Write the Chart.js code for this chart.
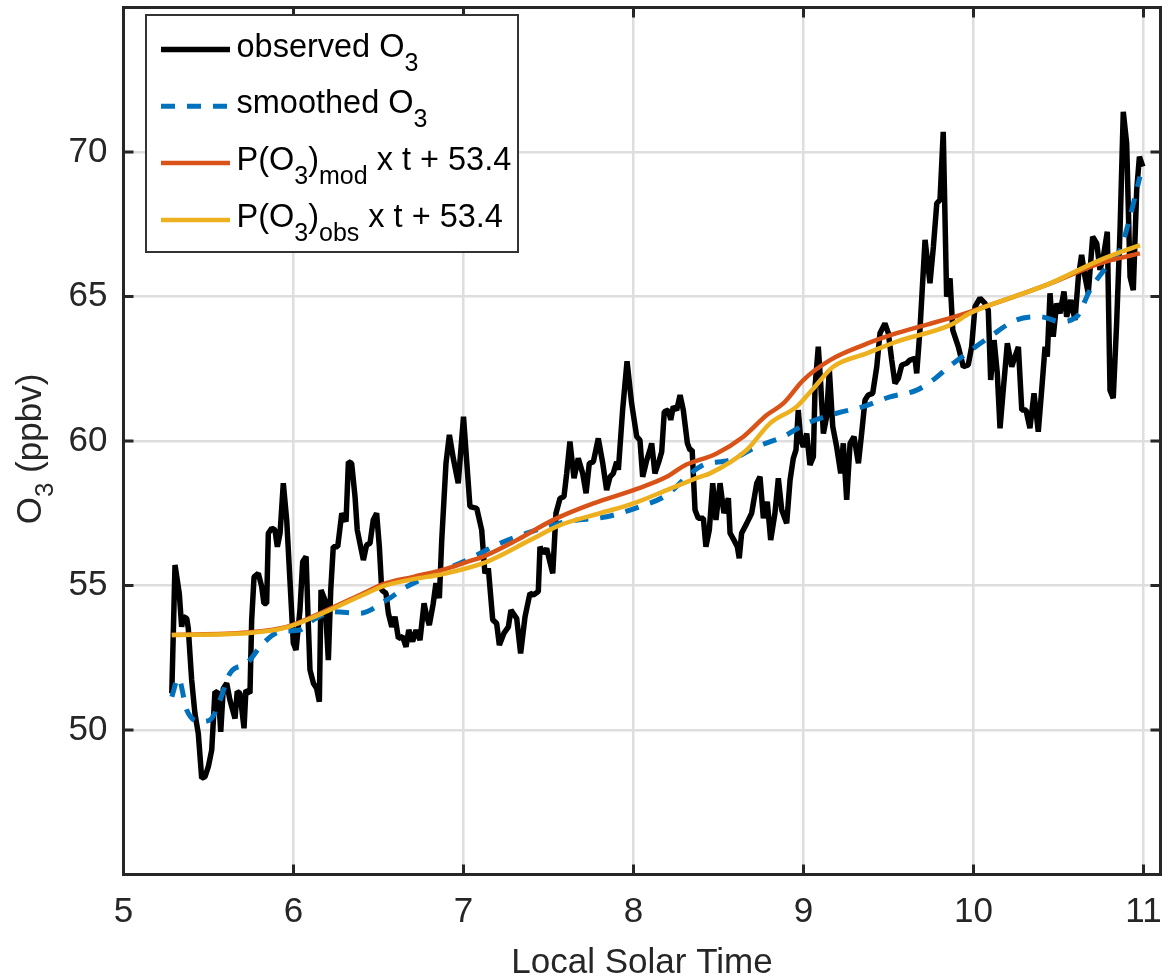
<!DOCTYPE html>
<html>
<head>
<meta charset="utf-8">
<script src="https://cdn.jsdelivr.net/npm/chart.js@4.4.1/dist/chart.umd.min.js"></script>
<style>
  html, body { margin: 0; padding: 0; background: #fff; }
  #wrap { width: 1170px; height: 979px; }
</style>
</head>
<body>
<div id="wrap"><canvas id="chart" width="1170" height="979"></canvas></div>
<script>
// observed O3 (ppbv) vs local solar time
const obsTime = [
  5.284, 5.303, 5.328, 5.342, 5.352, 5.372, 5.381, 5.401, 5.420, 5.440, 5.460, 5.479, 5.499, 5.519, 5.538, 5.558,
  5.572, 5.587, 5.607, 5.626, 5.656, 5.669, 5.685, 5.709, 5.720, 5.744, 5.754, 5.768, 5.793, 5.813, 5.826, 5.842,
  5.852, 5.872, 5.891, 5.905, 5.921, 5.940, 5.960, 5.979, 5.999, 6.015, 6.038, 6.054, 6.074, 6.087, 6.097, 6.117,
  6.136, 6.152, 6.162, 6.185, 6.205, 6.219, 6.234, 6.260, 6.284, 6.309, 6.323, 6.342, 6.362, 6.375, 6.395, 6.411,
  6.430, 6.450, 6.469, 6.489, 6.505, 6.519, 6.544, 6.558, 6.578, 6.597, 6.617, 6.642, 6.662, 6.678, 6.701, 6.721,
  6.744, 6.768, 6.784, 6.799, 6.822, 6.838, 6.858, 6.872, 6.897, 6.917, 6.940, 6.969, 7.000, 7.038, 7.078, 7.107,
  7.126, 7.146, 7.172, 7.195, 7.211, 7.238, 7.264, 7.279, 7.313, 7.336, 7.362, 7.391, 7.411, 7.440, 7.450, 7.469,
  7.489, 7.525, 7.544, 7.568, 7.591, 7.607, 7.626, 7.650, 7.675, 7.701, 7.721, 7.740, 7.764, 7.793, 7.819, 7.842,
  7.862, 7.881, 7.901, 7.911, 7.936, 7.962, 7.989, 8.019, 8.038, 8.054, 8.078, 8.097, 8.107, 8.126, 8.152, 8.166,
  8.181, 8.205, 8.219, 8.234, 8.254, 8.274, 8.293, 8.317, 8.332, 8.345, 8.362, 8.381, 8.411, 8.426, 8.446, 8.466,
  8.485, 8.509, 8.532, 8.558, 8.568, 8.591, 8.611, 8.622, 8.636, 8.666, 8.695, 8.725, 8.744, 8.764, 8.787, 8.807,
  8.832, 8.852, 8.872, 8.901, 8.921, 8.940, 8.956, 8.969, 8.984, 8.999, 9.019, 9.038, 9.058, 9.068, 9.087, 9.101,
  9.117, 9.136, 9.152, 9.172, 9.195, 9.219, 9.234, 9.254, 9.274, 9.297, 9.323, 9.342, 9.362, 9.381, 9.407, 9.431,
  9.450, 9.479, 9.499, 9.519, 9.538, 9.558, 9.578, 9.607, 9.626, 9.656, 9.666, 9.685, 9.715, 9.744, 9.764, 9.784,
  9.803, 9.822, 9.842, 9.862, 9.878, 9.911, 9.940, 9.969, 9.989, 10.009, 10.038, 10.068, 10.087, 10.101, 10.121, 10.140,
  10.156, 10.175, 10.199, 10.225, 10.244, 10.264, 10.284, 10.309, 10.332, 10.356, 10.381, 10.401, 10.421, 10.434, 10.450, 10.469,
  10.489, 10.509, 10.532, 10.548, 10.572, 10.597, 10.617, 10.636, 10.656, 10.675, 10.701, 10.725, 10.744, 10.764, 10.787, 10.803,
  10.822, 10.842, 10.862, 10.881, 10.901, 10.921, 10.940, 10.960, 10.976, 10.996
];
const obsO3 = [
  51.27, 55.71, 54.73, 53.57, 53.92, 53.86, 53.52, 51.73, 50.58, 49.88, 48.33, 48.38, 48.73, 49.31, 51.33, 51.27,
  49.94, 51.44, 51.62, 51.04, 50.40, 51.33, 51.27, 50.06, 51.38, 51.27, 53.81, 55.30, 55.42, 54.96, 54.38, 54.38,
  56.81, 56.98, 56.92, 56.34, 56.81, 58.54, 57.27, 55.19, 53.00, 52.77, 54.15, 55.82, 56.00, 53.69, 52.08, 51.62,
  51.44, 50.98, 54.84, 54.50, 52.42, 54.84, 56.34, 56.34, 57.50, 57.21, 59.28, 59.23, 58.07, 56.92, 56.34, 55.88,
  56.40, 56.46, 57.27, 57.50, 56.34, 54.84, 54.73, 54.04, 53.57, 53.92, 53.17, 53.23, 52.88, 53.46, 53.06, 53.46,
  53.11, 54.38, 53.92, 53.63, 54.38, 55.08, 54.56, 56.57, 59.23, 60.21, 59.40, 58.54, 60.84, 57.73, 57.67, 56.92,
  55.42, 55.60, 53.81, 53.69, 52.94, 53.35, 53.57, 54.15, 53.86, 52.65, 53.92, 54.73, 54.67, 54.79, 56.34, 56.11,
  56.28, 55.42, 57.50, 58.02, 58.07, 58.88, 59.98, 58.71, 59.40, 58.88, 58.19, 59.23, 59.28, 60.09, 59.23, 58.30,
  58.76, 58.88, 59.28, 59.00, 61.07, 62.76, 61.30, 60.15, 60.03, 58.76, 59.34, 59.69, 59.92, 58.88, 59.34, 59.63,
  61.01, 61.07, 60.73, 61.19, 61.07, 61.59, 61.07, 59.92, 59.69, 59.69, 57.61, 57.33, 57.33, 56.34, 56.92, 58.54,
  57.27, 58.54, 57.50, 58.02, 56.81, 56.57, 56.34, 55.94, 56.81, 57.15, 57.50, 58.54, 58.76, 57.33, 57.90, 56.57,
  57.50, 58.71, 57.61, 57.15, 58.65, 59.40, 59.69, 61.07, 60.03, 59.80, 60.26, 59.17, 59.46, 61.88, 63.26, 61.99,
  60.26, 60.84, 62.46, 60.50, 59.80, 58.88, 59.92, 57.96, 59.92, 60.15, 59.23, 60.26, 61.42, 61.59, 61.65, 62.57,
  63.73, 64.07, 63.73, 62.80, 61.99, 62.17, 62.63, 62.69, 62.80, 62.86, 62.34, 63.84, 66.96, 65.46, 66.72, 68.22,
  68.34, 70.70, 64.99, 65.63, 63.84, 63.26, 62.57, 62.63, 63.26, 64.65, 64.94, 64.76, 64.53, 62.11, 63.49, 62.34,
  60.44, 61.76, 63.38, 62.57, 62.92, 63.26, 61.07, 61.07, 60.44, 61.65, 60.32, 61.76, 63.26, 62.92, 65.11, 63.61,
  64.76, 64.42, 65.17, 64.30, 64.88, 64.19, 65.68, 66.44, 65.68, 65.11, 67.07, 66.84, 65.92, 66.38, 67.24, 61.76,
  61.48, 64.07, 67.30, 71.39, 70.30, 65.68, 65.22, 68.69, 69.84, 69.49
];

// smoothed O3
const smoothTime = [5.284, 5.323, 5.372, 5.45, 5.509, 5.568, 5.626, 5.725, 5.822, 5.921, 6.038, 6.117, 6.234, 6.391,
  6.548, 6.666, 6.862, 7.019, 7.116, 7.215, 7.372, 7.607, 7.842, 8.038, 8.195, 8.313, 8.411, 8.568, 8.725, 8.881,
  9.019, 9.195, 9.352, 9.509, 9.666, 9.76, 9.862, 9.96, 10.097, 10.254, 10.392, 10.509, 10.607, 10.685, 10.783,
  10.862, 10.921, 10.95, 10.979];
const smoothO3 = [51.15, 51.79, 50.69, 50.29, 50.35, 51.04, 51.96, 52.31, 53.0, 53.4, 53.46, 53.81, 54.09, 54.04,
  54.5, 54.96, 55.48, 55.88, 56.17, 56.46, 56.81, 57.21, 57.38, 57.73, 58.13, 58.76, 59.17, 59.34, 59.8, 60.15,
  60.61, 60.96, 61.19, 61.53, 61.76, 62.1, 62.6, 63.03, 63.61, 64.19, 64.3, 64.13, 64.3, 65.22, 66.03,
  66.61, 67.76, 68.45, 69.15];

// P(O3)mod x t + 53.4
const modTime = [5.284, 5.725, 5.96, 6.156, 6.411, 6.528, 6.705, 6.881, 7.038, 7.116, 7.313, 7.528, 7.764, 8.0,
  8.195, 8.293, 8.489, 8.646, 8.784, 8.881, 8.999, 9.156, 9.352, 9.548, 9.862, 9.979, 10.43, 10.744, 10.979];
const modO3 = [53.29, 53.37, 53.57, 54.04, 54.73, 55.05, 55.3, 55.55, 55.85, 56.0, 56.57, 57.27, 57.84, 58.3,
  58.76, 59.13, 59.57, 60.15, 60.9, 61.3, 62.11, 62.8, 63.32, 63.73, 64.25, 64.47, 65.4, 66.15, 66.49];

// P(O3)obs x t + 53.4
const obsPTime = [5.284, 5.725, 5.96, 6.156, 6.411, 6.528, 6.705, 6.881, 7.136, 7.391, 7.568, 7.803, 8.0, 8.195,
  8.391, 8.45, 8.666, 8.803, 8.96, 9.058, 9.175, 9.372, 9.548, 9.862, 9.979, 10.43, 10.744, 10.979];
const obsPO3 = [53.29, 53.35, 53.55, 54.0, 54.68, 54.98, 55.22, 55.4, 55.82, 56.57, 57.09, 57.5, 57.84, 58.3,
  58.76, 58.88, 59.69, 60.61, 61.19, 61.82, 62.57, 63.03, 63.44, 64.01, 64.42, 65.4, 66.26, 66.78];

const xTicks = [5, 6, 7, 8, 9, 10, 11];
const yTicks = [50, 55, 60, 65, 70];

const BLACK = '#000000';
const BLUE = '#0072BD';
const ORANGE = '#D95319';
const YELLOW = '#EDB120';
const AXIS = '#262626';
const FONT = "'Liberation Sans', Arial, sans-serif";

const toPoints = (ts, ys) => ts.map((t, i) => ({ x: t, y: ys[i] }));

// draws a string made of normal + subscript pieces, returns end x
function drawRich(ctx, x, y, parts, size, subSize, subDrop) {
    for (const [txt, sub] of parts) {
        ctx.font = `${sub ? subSize : size}px ${FONT}`;
        ctx.fillText(txt, x, sub ? y + subDrop : y);
        x += ctx.measureText(txt).width;
    }
    return x;
}

function richWidth(ctx, parts, size, subSize) {
    let w = 0;
    for (const [txt, sub] of parts) {
        ctx.font = `${sub ? subSize : size}px ${FONT}`;
        w += ctx.measureText(txt).width;
    }
    return w;
}

// no extra room for half labels, the plot box is fixed
function fixBox(s, size) {
    if (s.isHorizontal()) s.height = size; else s.width = size;
    s.paddingLeft = 0; s.paddingRight = 0; s.paddingTop = 0; s.paddingBottom = 0;
}

const legendItems = [
    { color: BLACK, width: 5.5, dash: [], parts: [['observed O'], ['3', true]] },
    { color: BLUE, width: 5, dash: [14, 12], parts: [['smoothed O'], ['3', true]] },
    { color: ORANGE, width: 4.5, dash: [], parts: [['P(O'], ['3', true], [')'], ['mod', true], [' x t + 53.4']] },
    { color: YELLOW, width: 4.5, dash: [], parts: [['P(O'], ['3', true], [')'], ['obs', true], [' x t + 53.4']] }
];

const matlabAxes = {
    id: 'matlabAxes',
    afterDatasetsDraw(chart) {
        const { ctx, chartArea: a, scales: { x, y } } = chart;
        ctx.save();
        ctx.strokeStyle = AXIS;
        ctx.lineWidth = 3;
        ctx.beginPath();
        // inward ticks on all four sides
        xTicks.forEach(v => {
            const px = x.getPixelForValue(v);
            ctx.moveTo(px, a.bottom); ctx.lineTo(px, a.bottom - 10);
            ctx.moveTo(px, a.top); ctx.lineTo(px, a.top + 10);
        });
        yTicks.forEach(v => {
            const py = y.getPixelForValue(v);
            ctx.moveTo(a.left, py); ctx.lineTo(a.left + 10, py);
            ctx.moveTo(a.right, py); ctx.lineTo(a.right - 10, py);
        });
        ctx.stroke();
        ctx.strokeRect(a.left, a.top, a.right - a.left, a.bottom - a.top);

        // legend box
        const lx = 146, ly = 15, lw = 372, lh = 237;
        ctx.fillStyle = '#fff';
        ctx.fillRect(lx, ly, lw, lh);
        ctx.lineWidth = 2;
        ctx.strokeStyle = '#333';
        ctx.strokeRect(lx, ly, lw, lh);
        ctx.textBaseline = 'alphabetic';
        ctx.textAlign = 'left';
        legendItems.forEach((item, i) => {
            const rowY = 49.5 + i * 56.8;
            ctx.beginPath();
            ctx.strokeStyle = item.color;
            ctx.lineWidth = item.width;
            ctx.setLineDash(item.dash);
            ctx.moveTo(161, rowY);
            ctx.lineTo(230, rowY);
            ctx.stroke();
            ctx.setLineDash([]);
            ctx.fillStyle = '#000';
            drawRich(ctx, 236.5, rowY + 7, item.parts, 32.5, 25, 14);
        });

        // y axis title with subscript
        const parts = [['O'], ['3', true], [' (ppbv)']];
        ctx.save();
        ctx.translate(41, (a.top + a.bottom) / 2 + 8);
        ctx.rotate(-Math.PI / 2);
        ctx.fillStyle = AXIS;
        const w = richWidth(ctx, parts, 35, 26);
        drawRich(ctx, -w / 2, 0, parts, 35, 26, 12);
        ctx.restore();
        ctx.restore();
    }
};

new Chart(document.getElementById('chart'), {
    type: 'line',
    data: {
        datasets: [
            {
                label: 'observed O3',
                data: toPoints(obsTime, obsO3),
                borderColor: BLACK,
                borderWidth: 5.5,
                borderJoinStyle: 'bevel',
                pointRadius: 0,
                tension: 0,
                order: 4
            },
            {
                label: 'smoothed O3',
                data: toPoints(smoothTime, smoothO3),
                borderColor: BLUE,
                borderWidth: 5,
                borderDash: [14, 12],
                pointRadius: 0,
                cubicInterpolationMode: 'monotone',
                order: 3
            },
            {
                label: 'P(O3)mod x t + 53.4',
                data: toPoints(modTime, modO3),
                borderColor: ORANGE,
                borderWidth: 4.5,
                pointRadius: 0,
                cubicInterpolationMode: 'monotone',
                order: 2
            },
            {
                label: 'P(O3)obs x t + 53.4',
                data: toPoints(obsPTime, obsPO3),
                borderColor: YELLOW,
                borderWidth: 4.5,
                pointRadius: 0,
                cubicInterpolationMode: 'monotone',
                order: 1
            }
        ]
    },
    options: {
        responsive: false,
        animation: false,
        devicePixelRatio: 1,
        layout: { padding: { left: 0, top: 7.5, right: 9.5, bottom: 0 } },
        plugins: { legend: { display: false }, tooltip: { enabled: false } },
        scales: {
            x: {
                type: 'linear',
                min: 5,
                max: 11.1,
                afterBuildTicks: s => { s.ticks = xTicks.map(v => ({ value: v })); },
                afterFit: s => fixBox(s, 104.5),
                grid: { color: '#dedede', lineWidth: 2.5, drawTicks: false },
                border: { display: false },
                ticks: {
                    color: AXIS,
                    font: { family: FONT, size: 35 },
                    padding: 17,
                    maxRotation: 0,
                    callback: v => String(v)
                },
                title: {
                    display: true,
                    text: 'Local Solar Time',
                    color: AXIS,
                    font: { family: FONT, size: 35, lineHeight: 1 },
                    padding: { top: 0, bottom: -2 }
                }
            },
            y: {
                type: 'linear',
                min: 45,
                max: 75,
                afterBuildTicks: s => { s.ticks = yTicks.map(v => ({ value: v })); },
                afterFit: s => fixBox(s, 123.5),
                grid: { color: '#dedede', lineWidth: 2.5, drawTicks: false },
                border: { display: false },
                ticks: {
                    color: AXIS,
                    font: { family: FONT, size: 35 },
                    padding: 16,
                    callback: v => String(v)
                }
            }
        }
    },
    plugins: [matlabAxes]
});
</script>
</body>
</html>
